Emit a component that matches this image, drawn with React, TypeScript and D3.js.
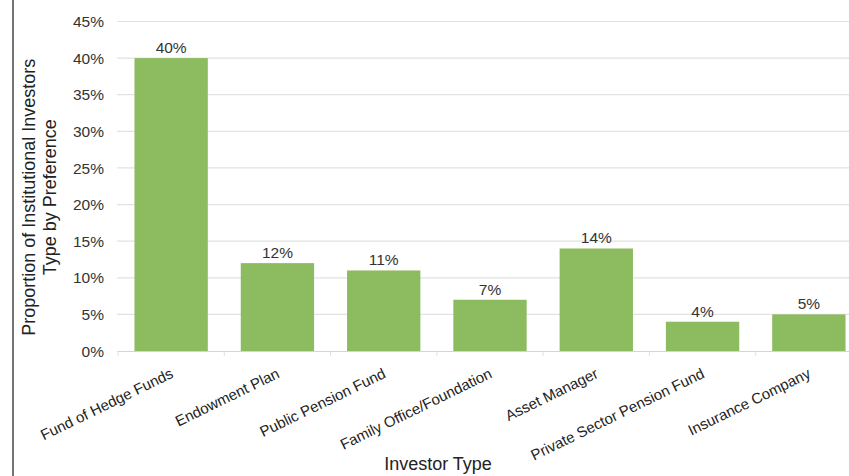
import React from "react";
import * as d3 from "d3";

const categories = [
  "Fund of Hedge Funds",
  "Endowment Plan",
  "Public Pension Fund",
  "Family Office/Foundation",
  "Asset Manager",
  "Private Sector Pension Fund",
  "Insurance Company",
];
const values = [0.4, 0.12, 0.11, 0.07, 0.14, 0.04, 0.05];
const yTicks = [0, 0.05, 0.1, 0.15, 0.2, 0.25, 0.3, 0.35, 0.4, 0.45];
const yTitleLines = ["Proportion of Institutional Investors", "Type by Preference"];
const xTitle = "Investor Type";

const W = 849;
const H = 476;
const left = 118;
const right = 862;
const top = 21.5;
const bottom = 351;

export default function App() {
  const x = d3.scaleBand<string>().domain(categories).range([left, right]).paddingInner(0.31).paddingOuter(0.155);
  const y = d3.scaleLinear().domain([0, 0.45]).range([bottom, top]);
  const fmt = d3.format(".0%");
  const font = "Arial, 'Liberation Sans', Helvetica, sans-serif";
  const step = x.step();
  const boundaries = d3.range(categories.length + 1).map((i) => left + i * step);

  return (
    <svg width={W} height={H} style={{ position: "absolute", left: 0, top: 0, background: "#fff" }} fontFamily={font}>
      <rect x={0} y={0} width={W} height={H} fill="#fff" />
      <line x1={13} x2={13} y1={0} y2={H} stroke="#444" strokeWidth={1.5} />
      {yTicks.map((t) => (
        <g key={t}>
          {t > 0 && <line x1={left - 1} x2={W} y1={y(t)} y2={y(t)} stroke="#e2e2e2" strokeWidth={1.2} />}
          <text x={104} y={y(t)} dy="0.36em" textAnchor="end" fontSize={15.5} fill="#333">
            {fmt(t)}
          </text>
        </g>
      ))}
      {categories.map((c, i) => (
        <g key={c}>
          <rect x={x(c)} y={y(values[i])} width={x.bandwidth()} height={bottom - y(values[i])} fill="#8dbb60" />
          <text x={(x(c) as number) + x.bandwidth() / 2} y={y(values[i]) - 5} textAnchor="middle" fontSize={15.5} fill="#333">
            {fmt(values[i])}
          </text>
          <text
            transform={`translate(${(x(c) as number) + x.bandwidth() / 2 + 3},${377}) rotate(-26)`}
            textAnchor="end"
            fontSize={15}
            fill="#222"
          >
            {c}
          </text>
        </g>
      ))}
      <line x1={left - 1} x2={W} y1={bottom + 0.5} y2={bottom + 0.5} stroke="#d4d4d4" strokeWidth={1.2} />
      {boundaries.map((b, i) => (
        <line key={i} x1={b} x2={b} y1={bottom} y2={bottom + 5} stroke="#e0e0e0" strokeWidth={1} />
      ))}
      <text transform={`translate(35,${(top + bottom) / 2 + 11}) rotate(-90)`} textAnchor="middle" fontSize={18} fill="#222">
        <tspan x={0} dy={0}>{yTitleLines[0]}</tspan>
        <tspan x={0} dy={21}>{yTitleLines[1]}</tspan>
      </text>
      <text x={438} y={470} textAnchor="middle" fontSize={18} fill="#222">
        {xTitle}
      </text>
    </svg>
  );
}
